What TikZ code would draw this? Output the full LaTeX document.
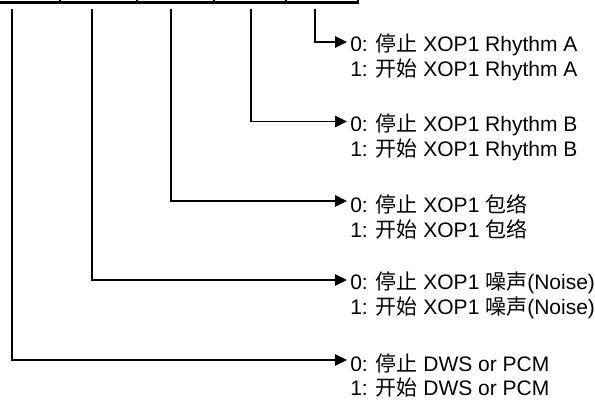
\documentclass[tikz,border=0pt]{standalone}
\usepackage{fontspec}
\setmainfont{Liberation Sans}
\newfontfamily\cjk{Noto Sans CJK SC}
\newcommand{\zh}[1]{{\cjk #1}}
\usetikzlibrary{positioning,arrows.meta}

\begin{document}
\begin{tikzpicture}[
  x=0.75pt, y=-0.75pt,
  font=\fontsize{15.75pt}{18pt}\selectfont,
  cell/.style={draw, line width=1.6pt},
  txt/.style={inner xsep=2.25pt, inner ysep=0pt, anchor=west},
  arr/.style={-{Triangle[length=9pt, width=8.5pt]}, line width=1.2pt}
]
\useasboundingbox (0,0) rectangle (595,403);

% register cells (cut off at the top)
\draw[cell] (-20,-40) rectangle (60,2.5);
\draw[cell] (60,-40) rectangle (137,2.5);
\draw[cell] (137,-40) rectangle (214,2.5);
\draw[cell] (214,-40) rectangle (286,2.5);
\draw[cell] (286,-40) rectangle (358,2.5);

\coordinate (bit4) at (315,9);
\coordinate (bit3) at (251,9);
\coordinate (bit2) at (171,9);
\coordinate (bit1) at (92,9);
\coordinate (bit0) at (12,9);

\node[txt] (rhyA0) at (347,45) {0: \zh{停止} XOP1 Rhythm A};
\node[txt] (rhyA1) at (347,70) {1: \zh{开始} XOP1 Rhythm A};

\node[txt] (rhyB0) at (347,124.5) {0: \zh{停止} XOP1 Rhythm B};
\node[txt] (rhyB1) at (347,149.5) {1: \zh{开始} XOP1 Rhythm B};

\node[txt] (env0) at (347,204) {0: \zh{停止} XOP1 \zh{包络}};
\node[txt] (env1) at (347,229) {1: \zh{开始} XOP1 \zh{包络}};

\node[txt] (noise0) at (347,283) {0: \zh{停止} XOP1 \zh{噪声}(Noise)};
\node[txt] (noise1) at (347,308) {1: \zh{开始} XOP1 \zh{噪声}(Noise)};

\node[txt] (pcm0) at (347,363) {0: \zh{停止} DWS or PCM};
\node[txt] (pcm1) at (347,388) {1: \zh{开始} DWS or PCM};

% arrows hit the first line a little above its middle
\draw[arr] (bit4) |- ([yshift=2.25pt]rhyA0.west);
\draw[arr] (bit3) |- ([yshift=2.25pt]rhyB0.west);
\draw[arr] (bit2) |- ([yshift=2.25pt]env0.west);
\draw[arr] (bit1) |- ([yshift=2.25pt]noise0.west);
\draw[arr] (bit0) |- ([yshift=2.25pt]pcm0.west);
\end{tikzpicture}
\end{document}
